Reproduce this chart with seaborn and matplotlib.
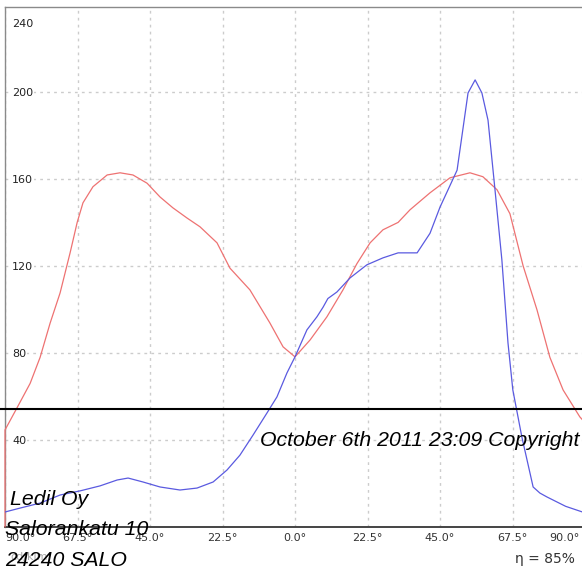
import matplotlib
matplotlib.use("Agg")
import matplotlib.pyplot as plt
import matplotlib.transforms as mtransforms
import numpy as np
import pandas as pd
import seaborn as sns

# Curva roja (C0-C180) y curva azul (C90-C270), intensidad en cd/klm
red_angle = [-90, -90, -86.3, -82.2, -79.1, -76.0, -72.9, -69.8, -67.6, -65.8, -62.7,
             -58.3, -54.3, -50.3, -45.9, -41.9, -37.9, -33.5, -29.5, -24.2, -20.2,
             -14.0, -7.8, -3.7, 0.0, 4.7, 9.9, 14.9, 19.2, 23.3, 27.3, 32.0, 35.7,
             41.9, 48.1, 54.3, 58.3, 62.7, 66.7, 70.8, 75.1, 79.1, 83.2, 88.4, 90.0]
red_value = [0, 44.6, 54.7, 66.0, 78.0, 93.7, 107.6, 126.0, 140.0, 149.0, 156.4,
             161.8, 162.8, 161.8, 158.0, 151.7, 146.7, 142.0, 138.0, 130.6, 119.0,
             109.0, 93.8, 82.8, 78.2, 86.0, 96.6, 109.0, 121.0, 130.6, 136.6, 140.0, 145.8,
             153.6, 160.5, 162.8, 161.0, 155.0, 144.0, 120.0, 99.8, 78.0, 63.0, 50.6, 48.0]

blue_angle = [-90, -85.3, -79.1, -72.9, -66.7, -60.5, -55.2, -51.8, -47.2, -41.9, -35.7,
              -30.4, -25.4, -21.1, -17.1, -13.0, -8.7, -5.6, -2.5, 0.0, 3.7, 6.8, 8.7,
              10.2, 13.0, 17.1, 22.3, 27.3, 32.0, 37.9, 41.9, 45.0, 50.3, 53.7, 55.9,
              58.0, 59.9, 62.0, 64.2, 66.1, 67.6, 70.4, 73.9, 76.0, 78.2, 84.0, 90.0]
blue_value = [6.9, 8.7, 11.0, 14.7, 16.6, 18.9, 21.6, 22.5, 20.7, 18.4, 17.0,
              17.9, 20.7, 26.2, 33.0, 42.3, 52.4, 59.8, 70.8, 78.2, 90.6, 96.6, 101.0,
              105.0, 108.0, 114.5, 120.5, 123.7, 126.0, 126.0, 135.0, 147.0, 164.0, 199.5, 205.5,
              199.5, 187.0, 156.0, 122.8, 84.6, 63.0, 41.4, 18.4, 15.6, 13.8, 9.5, 6.5]

x_ticks = [-90, -67.5, -45, -22.5, 0, 22.5, 45, 67.5, 90]
x_tick_labels = ["90.0°", "67.5°", "45.0°", "22.5°", "0.0°", "22.5°", "45.0°", "67.5°", "90.0°"]
y_ticks = [40, 80, 120, 160, 200]
y_tick_labels = ["40", "80", "120", "160", "200"]
marker_level = 54.3

sns.set_style("white")
plt.rcParams['font.family'] = ['DejaVu Sans']

fig = plt.figure(figsize=(5.82, 5.68), dpi=100)
ax = fig.add_axes([5 / 582, 1 - 527 / 568, 580 / 582, 520 / 568])

df_red = pd.DataFrame({'angulo': red_angle, 'valor': red_value})
df_blue = pd.DataFrame({'angulo': blue_angle, 'valor': blue_value})
sns.lineplot(data=df_red, x='angulo', y='valor', sort=False, estimator=None,
             color='#ee7272', linewidth=0.9, ax=ax, zorder=4, clip_on=False)
sns.lineplot(data=df_blue, x='angulo', y='valor', sort=False, estimator=None,
             color='#5a5ae0', linewidth=0.9, ax=ax, zorder=4)

ax.set_xlim(-90, 90)
ax.set_ylim(0, 239)
ax.set_xlabel("")
ax.set_ylabel("")

ax.set_xticks(x_ticks)
ax.set_xticklabels(x_tick_labels, fontsize=8, color='#333333')
ax.set_yticks(y_ticks)
ax.set_yticklabels(y_tick_labels, fontsize=8, color='#222222')
ax.tick_params(axis='x', length=0, pad=4)
ax.tick_params(axis='y', length=0, pad=-5)
for lab in ax.get_yticklabels():
    lab.set_horizontalalignment('left')
    lab.set_bbox(dict(facecolor='white', edgecolor='none', pad=1))
xl = ax.get_xticklabels()
xl[0].set_horizontalalignment('left')
xl[-1].set_horizontalalignment('right')
xl[-1].set_transform(xl[-1].get_transform() +
                     mtransforms.ScaledTranslation(-0.05, 0, fig.dpi_scale_trans))
ax.text(0.012, 0.967, "240", transform=ax.transAxes, fontsize=8, color='#222222',
        ha='left', va='center')

ax.grid(True, color='#cccccc', linestyle=(0, (2, 3)), linewidth=1)
ax.set_axisbelow(True)
for side in ['left', 'top', 'right']:
    ax.spines[side].set_color('#8a8a8a')
    ax.spines[side].set_linewidth(1)
ax.spines['bottom'].set_color('#444444')
ax.spines['bottom'].set_linewidth(1.4)

ax.axhline(marker_level, xmin=-0.02, xmax=1, color='black', linewidth=1.5, clip_on=False, zorder=5)

ital = dict(family=['Liberation Sans', 'DejaVu Sans'], style='italic', color='black', fontsize=15.3)
fig.text(260 / 582, 1 - 446 / 568, "October 6th 2011 23:09 Copyright", va='baseline', **ital)
fig.text(10 / 582, 1 - 505 / 568, "Ledil Oy", va='baseline', **ital)
fig.text(5 / 582, 1 - 535 / 568, "Salorankatu 10", va='baseline', **ital)
fig.text(10 / 582, 1 - 557 / 568, "cd/klm", va='center', fontsize=8, color='#aaaaaa')
fig.text(5 / 582, 1 - 566 / 568, "24240 SALO", va='baseline', **ital)
fig.text(575 / 582, 1 - 563 / 568, "η = 85%", ha='right', va='baseline', fontsize=10, color='#333333')

plt.savefig('out.png', dpi=100)
plt.close()
